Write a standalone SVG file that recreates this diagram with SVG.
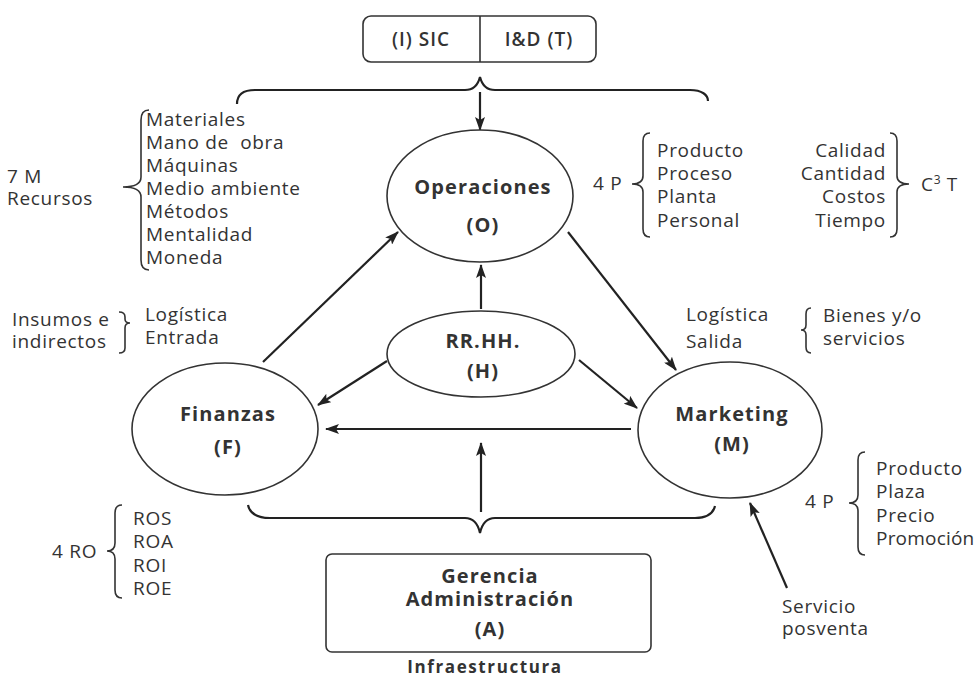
<svg xmlns="http://www.w3.org/2000/svg" width="979" height="684" viewBox="0 0 979 684">
  <defs>
    <style>
      text { font-family: "Open Sans", "Noto Sans", "DejaVu Sans", sans-serif; fill: #333; white-space: pre; }
      .t { font-size: 19px; letter-spacing: 0.7px; }
      .b { font-size: 20px; font-weight: bold; letter-spacing: 1.1px; }
      .m { text-anchor: middle; }
      .e { text-anchor: end; }
      .shape { fill: #fff; stroke: #333; stroke-width: 1.6; }
      .br { fill: none; stroke: #333; stroke-width: 1.6; }
      .big { fill: none; stroke: #222; stroke-width: 2.2; }
      .conn { fill: none; stroke: #222; stroke-width: 2.2; marker-end: url(#ah); }
    </style>
    <marker id="ah" viewBox="0 0 14 10" refX="13" refY="5" markerWidth="14" markerHeight="10" markerUnits="userSpaceOnUse" orient="auto">
      <path d="M0,0 L14,5 L0,10 L3,5 Z" fill="#222"/>
    </marker>
  </defs>

  <rect width="979" height="684" fill="#fff"/>

  <!-- top box -->
  <g id="sic-id">
    <rect class="shape" x="363" y="16" width="233" height="46" rx="8"/>
    <line x1="480" y1="16" x2="480" y2="62" stroke="#333" stroke-width="1.6"/>
    <text class="m" x="421" y="46" style="font-size:19px;font-weight:600;letter-spacing:1px">(I) SIC</text>
    <text class="m" x="539" y="46" style="font-size:19px;font-weight:600;letter-spacing:1px">I&amp;D (T)</text>
  </g>

  <!-- large braces -->
  <path class="big" d="M237,104 C237,95 243,90 255,90 L465,90 C473,90 478,85 480,77 C482,85 487,90 495,90 L690,90 C702,90 708,95 708,101"/>
  <path class="big" d="M248,505 C250,514 258,518 270,518 L465,518 C473,518 478,524 480,533 C482,524 487,518 495,518 L695,518 C707,518 713,514 715,506"/>

  <!-- connectors -->
  <g id="connectors">
    <line class="conn" x1="480" y1="92" x2="480" y2="130"/>
    <line class="conn" x1="481" y1="309" x2="481" y2="265"/>
    <line class="conn" x1="263" y1="362" x2="398" y2="232"/>
    <line class="conn" x1="568" y1="232" x2="676" y2="370"/>
    <line class="conn" x1="387" y1="361" x2="318" y2="405"/>
    <line class="conn" x1="579" y1="360" x2="637" y2="408"/>
    <line class="conn" x1="631" y1="429" x2="326" y2="429"/>
    <line class="conn" x1="481" y1="512" x2="481" y2="443"/>
    <line class="conn" x1="787" y1="588" x2="750" y2="503"/>
  </g>

  <!-- nodes -->
  <g id="operaciones">
    <ellipse class="shape" cx="480" cy="196" rx="93" ry="66"/>
    <text class="b m" x="483" y="194">Operaciones</text>
    <text class="b m" x="483" y="232">(O)</text>
  </g>
  <g id="rrhh">
    <ellipse class="shape" cx="481" cy="354" rx="94" ry="43"/>
    <text class="b m" x="483" y="348">RR.HH.</text>
    <text class="b m" x="483" y="378">(H)</text>
  </g>
  <g id="finanzas">
    <ellipse class="shape" cx="225" cy="429" rx="93" ry="66"/>
    <text class="b m" x="228" y="421">Finanzas</text>
    <text class="b m" x="228" y="454">(F)</text>
  </g>
  <g id="marketing">
    <ellipse class="shape" cx="730" cy="430" rx="92" ry="68"/>
    <text class="b m" x="732" y="421">Marketing</text>
    <text class="b m" x="732" y="451">(M)</text>
  </g>
  <g id="gerencia">
    <rect class="shape" x="326" y="554" width="325" height="98" rx="6"/>
    <text class="b m" x="490" y="583">Gerencia</text>
    <text class="b m" x="490" y="606">Administración</text>
    <text class="b m" x="490" y="636">(A)</text>
  </g>
  <text class="m" x="485" y="673" style="font-size:17px;font-weight:bold;letter-spacing:1.6px">Infraestructura</text>

  <!-- 7 M -->
  <g id="siete-m">
    <text class="t" x="7" y="183">7 M</text>
    <text class="t" x="7" y="205">Recursos</text>
    <path class="br" d="M149,110 Q141,110 141,120 L141,177 Q141,187 123,187 Q141,187 141,197 L141,260 Q141,270 149,270"/>
    <text class="t" x="146" y="126">Materiales</text>
    <text class="t" x="146" y="149">Mano de  obra</text>
    <text class="t" x="146" y="172">Máquinas</text>
    <text class="t" x="146" y="195">Medio ambiente</text>
    <text class="t" x="146" y="218">Métodos</text>
    <text class="t" x="146" y="241">Mentalidad</text>
    <text class="t" x="146" y="264">Moneda</text>
  </g>

  <!-- 4 P operaciones -->
  <g id="cuatro-p-op">
    <text class="t" x="593" y="190">4 P</text>
    <path class="br" d="M650,133 Q643,133 643,141 L643,176 Q643,184 632,184 Q643,184 643,192 L643,229 Q643,237 650,237"/>
    <text class="t" x="657" y="157">Producto</text>
    <text class="t" x="657" y="180">Proceso</text>
    <text class="t" x="657" y="203">Planta</text>
    <text class="t" x="657" y="227">Personal</text>
  </g>

  <!-- C3 T -->
  <g id="c3t">
    <text class="t e" x="886" y="157">Calidad</text>
    <text class="t e" x="886" y="180">Cantidad</text>
    <text class="t e" x="886" y="203">Costos</text>
    <text class="t e" x="886" y="227">Tiempo</text>
    <path class="br" d="M890,133 Q897,133 897,141 L897,176 Q897,184 909,184 Q897,184 897,192 L897,229 Q897,237 890,237"/>
    <text class="t" x="921" y="191">C<tspan dy="-7" style="font-size:12px">3</tspan><tspan dy="7"> T</tspan></text>
  </g>

  <!-- logística entrada -->
  <g id="logistica-entrada">
    <text class="t" x="12" y="326">Insumos e</text>
    <text class="t" x="12" y="348">indirectos</text>
    <path class="br" d="M119,312 Q125,312 125,317 L125,319 Q125,323 130,323 Q125,323 125,328 L125,348 Q125,353 119,353"/>
    <text class="t" x="145" y="321">Logística</text>
    <text class="t" x="145" y="344">Entrada</text>
  </g>

  <!-- logística salida -->
  <g id="logistica-salida">
    <text class="t" x="686" y="321">Logística</text>
    <text class="t" x="686" y="348">Salida</text>
    <path class="br" d="M811,308 Q806,308 806,314 L806,325 Q806,330 801,330 Q806,330 806,335 L806,347 Q806,353 811,353"/>
    <text class="t" x="823" y="322">Bienes y/o</text>
    <text class="t" x="823" y="345">servicios</text>
  </g>

  <!-- 4 P marketing -->
  <g id="cuatro-p-mk">
    <text class="t" x="805" y="508">4 P</text>
    <path class="br" d="M865,452 Q858,452 858,460 L858,495 Q858,503 849,503 Q858,503 858,511 L858,547 Q858,555 865,555"/>
    <text class="t" x="876" y="475">Producto</text>
    <text class="t" x="876" y="498">Plaza</text>
    <text class="t" x="876" y="522">Precio</text>
    <text class="t" x="876" y="545" style="letter-spacing:0.2px">Promoción</text>
  </g>

  <!-- servicio posventa -->
  <g id="posventa">
    <text class="t" x="782" y="613">Servicio</text>
    <text class="t" x="782" y="635">posventa</text>
  </g>

  <!-- 4 RO -->
  <g id="cuatro-ro">
    <text class="t" x="52" y="558">4 RO</text>
    <path class="br" d="M122,505 Q115,505 115,513 L115,543 Q115,551 107,551 Q115,551 115,559 L115,590 Q115,598 122,598"/>
    <text class="t" x="133" y="525">ROS</text>
    <text class="t" x="133" y="548">ROA</text>
    <text class="t" x="133" y="572">ROI</text>
    <text class="t" x="133" y="595">ROE</text>
  </g>
</svg>
